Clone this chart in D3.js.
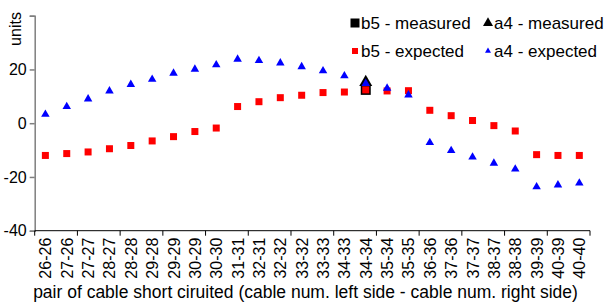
<!DOCTYPE html>
<html>
<head>
<meta charset="utf-8">
<script src="https://cdn.jsdelivr.net/npm/d3@7"></script>
<style>
  body { margin: 0; background: #fff; overflow: hidden; }
  svg { display: block; }
  svg text { font-family: "Liberation Sans", Arial, sans-serif; fill: #000; }
</style>
</head>
<body>
<div id="chart" style="width:610px;height:306px"></div>
<script>
const categories = ["26-26", "27-26", "27-27", "28-27", "28-28", "29-28", "29-29", "30-29", "30-30",
    "31-31", "32-31", "32-32", "33-32", "33-33", "34-33", "34-34", "35-34", "35-35", "36-36",
    "37-36", "37-37", "38-37", "38-38", "39-39", "40-39", "40-40"];
const b5Expected = [-12.0, -11.3, -10.7, -9.5, -8.3, -6.6, -5.0, -3.1, -1.8, 6.2, 8.0, 9.5, 10.4,
    11.4, 11.6, 12.4, 12.0, 12.1, 4.8, 2.8, 1.0, -0.9, -2.9, -11.7, -12.0, -12.0];
const a4Expected = [3.3, 6.2, 9.0, 12.0, 14.4, 16.3, 18.6, 20.1, 21.7, 23.8, 23.3, 22.4, 21.0,
    19.5, 17.6, 14.8, 13.0, 10.5, -7.2, -10.2, -12.6, -14.9, -17.1, -23.7, -23.0, -22.3];
const b5Measured = [{cat: "34-34", value: 12.4}];
const a4Measured = [{cat: "34-34", value: 15.2}];
const yTicks = [-40, -20, 0, 20, 40];
const yLabels = [-40, -20, 0, 20];
const legendItems = [
    {label: "b5 - measured", shape: "square", color: "#000", size: 9},
    {label: "a4 - measured", shape: "triangle", color: "#000", size: 10},
    {label: "b5 - expected", shape: "square", color: "#ff0000", size: 6},
    {label: "a4 - expected", shape: "triangle", color: "#0000ff", size: 6}
];

const margin = {top: 15.7, right: 20, bottom: 75.3, left: 34.7};
const width = 610, height = 306;
const innerWidth = width - margin.left - margin.right;
const innerHeight = height - margin.top - margin.bottom;

const svg = d3.select("#chart").append("svg")
    .attr("width", width)
    .attr("height", height);
const g = svg.append("g")
    .attr("transform", "translate(" + margin.left + "," + margin.top + ")");

const x = d3.scaleBand().domain(categories).range([0, innerWidth]);
const y = d3.scaleLinear().domain([-40, 40]).range([innerHeight, 0]);

// y axis (labels placed separately in page coordinates)
const yAxis = g.append("g")
    .call(d3.axisLeft(y).tickValues(yTicks).tickSize(5).tickFormat(""));
yAxis.select(".domain").attr("stroke", "#7f7f7f").attr("stroke-width", 1.5);
yAxis.selectAll(".tick line").attr("stroke", "#7f7f7f").attr("stroke-width", 1.5);
yAxis.selectAll(".tick text").remove();

svg.selectAll(".ylab").data(yLabels).enter().append("text")
    .attr("class", "ylab")
    .attr("y", d => margin.top + y(d))
    .attr("dy", "0.36em")
    .style("font-size", "16px")
    .text(d => d)
    .attr("x", function () { return margin.left - 8 - this.getComputedTextLength(); });

// x axis: ticks every second category boundary
const xAxis = g.append("g").attr("transform", "translate(0," + innerHeight + ")");
xAxis.append("line")
    .attr("x1", 0).attr("x2", innerWidth)
    .attr("stroke", "#000").attr("stroke-width", 1);
const bounds = d3.range(0, categories.length + 1, 2).map(i => i * x.step());
xAxis.selectAll(".xt").data(bounds).enter().append("line")
    .attr("x1", d => d).attr("x2", d => d)
    .attr("y1", 0).attr("y2", 5)
    .attr("stroke", "#000");

const cx = d => x(d) + x.bandwidth() / 2;
const labelY = margin.top + innerHeight + 7;
svg.selectAll(".xlab").data(categories).enter().append("text")
    .attr("class", "xlab")
    .style("font-size", "16px")
    .text(d => d)
    .attr("x", function (d) { return margin.left + cx(d) + 6 - this.getComputedTextLength(); })
    .attr("y", labelY)
    .attr("transform", d => "rotate(-90," + (margin.left + cx(d) + 6) + "," + labelY + ")");

// axis titles
svg.append("text")
    .attr("x", 305.5).attr("y", 298)
    .attr("text-anchor", "middle")
    .style("font-size", "17.5px")
    .text("pair of cable short ciruited (cable num. left side - cable num. right side)");
svg.append("text")
    .attr("x", 21).attr("y", 29)
    .attr("text-anchor", "middle")
    .attr("transform", "rotate(-90,21,29)")
    .style("font-size", "16px")
    .text("units");

const tri = s => d3.symbol(d3.symbolTriangle, s * s * Math.sqrt(3) / 4)();

// measured points
g.selectAll(".b5m").data(b5Measured).enter().append("rect")
    .attr("x", d => cx(d.cat) - 5).attr("y", d => y(d.value) - 5)
    .attr("width", 10).attr("height", 10)
    .attr("fill", "#000");
g.selectAll(".a4m").data(a4Measured).enter().append("path")
    .attr("d", tri(13))
    .attr("transform", d => "translate(" + cx(d.cat) + "," + y(d.value) + ")")
    .attr("fill", "#000");

// expected points
g.selectAll(".b5e").data(b5Expected).enter().append("rect")
    .attr("x", (d, i) => cx(categories[i]) - 3.5)
    .attr("y", d => y(d) - 3.5)
    .attr("width", 7).attr("height", 7)
    .attr("fill", "#ff0000");
g.selectAll(".a4e").data(a4Expected).enter().append("path")
    .attr("d", tri(8.5))
    .attr("transform", (d, i) => "translate(" + cx(categories[i]) + "," + y(d) + ")")
    .attr("fill", "#0000ff");

// legend
const legend = svg.append("g");
legendItems.forEach((it, i) => {
    const lx = i % 2 === 0 ? 355 : 488;
    const ly = i < 2 ? 23 : 51;
    if (it.shape === "square") {
        legend.append("rect")
            .attr("x", lx - it.size / 2).attr("y", ly - it.size / 2)
            .attr("width", it.size).attr("height", it.size)
            .attr("fill", it.color);
    } else {
        legend.append("path")
            .attr("d", tri(it.size))
            .attr("transform", "translate(" + lx + "," + ly + ")")
            .attr("fill", it.color);
    }
    legend.append("text")
        .attr("x", lx + 6).attr("y", ly + 6)
        .style("font-size", "17px")
        .text(it.label);
});
</script>
</body>
</html>
